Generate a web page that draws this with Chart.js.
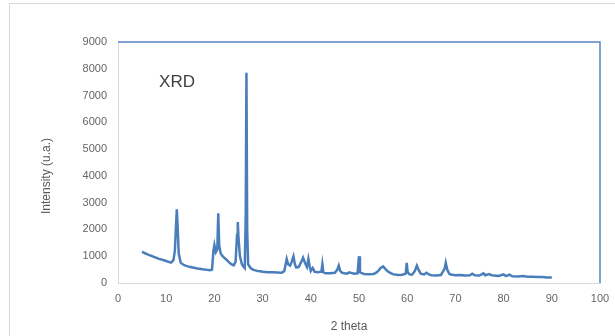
<!DOCTYPE html>
<html>
<head>
<meta charset="utf-8">
<script src="https://cdn.jsdelivr.net/npm/chart.js@4"></script>
<style>
  html, body { margin: 0; padding: 0; background: #fff; overflow: hidden; }
  #frame { position: absolute; left: 9px; top: 3px; width: 700px; height: 400px; border: 1px solid #d9d9d9; }
  #wrap { position: absolute; left: 0; top: 0; width: 615px; height: 336px; }
</style>
</head>
<body>
<div id="frame"></div>
<div id="wrap"><canvas id="xrd" width="615" height="336"></canvas></div>
<script>
// 2 theta (deg) and intensity (u.a.)
const twoTheta = [
  5.0, 5.5, 6.0, 6.5, 7.0, 7.5, 8.0, 8.5, 9.0, 9.5, 10.0, 10.5, 11.0, 11.5, 11.8, 12.0, 12.2, 12.4, 12.6,
  13.0, 13.5, 14.0, 14.5, 15.0, 15.5, 16.0, 16.5, 17.0, 17.5, 18.0, 18.5, 19.0, 19.5, 19.8, 20.0, 20.3,
  20.6, 20.8, 21.0, 21.3, 21.7, 22.0, 22.5, 23.0, 23.5, 24.0, 24.4, 24.7, 24.85, 25.0, 25.3, 25.7, 26.0,
  26.3, 26.5, 26.65, 26.8, 27.0, 27.5, 28.0, 28.5, 29.0, 29.5, 30.0, 31.0, 32.0, 33.0, 34.0, 34.5, 35.0,
  35.3, 35.7, 36.0, 36.4, 36.7, 37.0, 37.5, 38.0, 38.4, 38.8, 39.2, 39.5, 39.8, 40.0, 40.4, 40.8, 41.5,
  42.2, 42.4, 42.6, 43.0, 44.0, 45.0, 45.5, 45.8, 46.1, 46.5, 47.0, 47.5, 48.0, 48.5, 49.0, 49.7, 50.0,
  50.2, 51.0, 52.0, 53.0, 53.5, 54.0, 54.5, 55.0, 55.5, 56.0, 56.5, 57.0, 58.0, 59.0, 59.7, 59.9, 60.1,
  60.5, 61.0, 61.6, 62.0, 62.4, 62.8, 63.5, 64.0, 64.5, 65.0, 66.0, 67.0, 67.5, 67.8, 68.0, 68.3, 68.7,
  69.0, 70.0, 71.0, 72.0, 73.0, 73.5, 74.0, 75.0, 75.8, 76.2, 77.0, 77.5, 78.0, 79.0, 80.0, 80.5, 81.2,
  81.8, 83.0, 84.0, 85.0, 86.0, 87.0, 88.0, 89.0, 90.0
];
const intensity = [
  1170, 1120, 1080, 1040, 1010, 970, 940, 900, 880, 850, 820, 790, 760, 850, 1200, 2000, 2750, 2000, 1100,
  760, 690, 650, 620, 600, 580, 560, 540, 530, 510, 500, 490, 480, 500, 1200, 1420, 1150,
  1250, 2600, 1400, 1100, 1000, 950, 870, 780, 700, 660, 800, 1800, 2280, 1700, 1000, 700, 620,
  560, 2500, 7850, 2000, 700, 560, 500, 470, 450, 440, 420, 400, 400, 390, 380, 450, 900,
  700, 650, 780, 1000, 700, 580, 600, 780, 950, 750, 600, 900, 600, 450, 560, 420, 400,
  420, 700, 400, 360, 360, 380, 500, 650, 450, 380, 360, 350, 400, 370, 350, 360, 1000,
  400, 340, 330, 340, 380, 450, 560, 620, 520, 430, 380, 330, 300, 310, 350, 750, 400,
  320, 310, 450, 650, 480, 350, 320, 380, 320, 290, 280, 300, 450, 550, 750, 500, 350,
  320, 290, 300, 280, 290, 350, 290, 280, 360, 290, 330, 290, 280, 260, 320, 260, 310,
  250, 240, 260, 230, 230, 220, 220, 210, 210
];
const xTicks = [0, 10, 20, 30, 40, 50, 60, 70, 80, 90, 100];
const yTicks = [0, 1000, 2000, 3000, 4000, 5000, 6000, 7000, 8000, 9000];

const points = twoTheta.map((t, i) => ({ x: t, y: intensity[i] }));

// plot frame (blue top/right) plus the free-standing texts
const decor = {
  id: 'decor',
  afterDraw(chart) {
    const { ctx, chartArea: a } = chart;
    ctx.save();
    ctx.strokeStyle = '#5585c5';
    ctx.lineWidth = 1.5;
    ctx.beginPath();
    ctx.moveTo(a.left, a.top);
    ctx.lineTo(a.right, a.top);
    ctx.lineTo(a.right, a.bottom);
    ctx.stroke();

    ctx.fillStyle = '#404040';
    ctx.font = '17px "Liberation Sans", Arial, sans-serif';
    ctx.textAlign = 'center';
    ctx.textBaseline = 'middle';
    ctx.fillText('XRD', 177, 82);

    ctx.fillStyle = '#595959';
    ctx.font = '12px "Liberation Sans", Arial, sans-serif';
    ctx.fillText('2 theta', 349, 327);

    ctx.translate(47, 176);
    ctx.rotate(-Math.PI / 2);
    ctx.fillText('Intensity (u.a.)', 0, 0);
    ctx.restore();
  }
};

const tickFont = { family: '"Liberation Sans", Arial, sans-serif', size: 11 };

new Chart(document.getElementById('xrd'), {
  type: 'scatter',
  data: {
    datasets: [{
      data: points,
      showLine: true,
      borderColor: '#4a7ebb',
      borderWidth: 2.5,
      pointRadius: 0,
      tension: 0
    }]
  },
  options: {
    responsive: false,
    animation: false,
    events: [],
    layout: { padding: { left: 0, right: 15, top: 42, bottom: 0 } },
    plugins: { legend: { display: false }, tooltip: { enabled: false } },
    scales: {
      x: {
        type: 'linear',
        min: 0,
        max: 100,
        afterBuildTicks: s => { s.ticks = xTicks.map(v => ({ value: v })); },
        afterFit: s => { s.height = 53; s.paddingLeft = 0; s.paddingRight = 0; },
        grid: { color: 'rgba(0,0,0,0)', drawTicks: false },
        border: { display: true, color: '#d9d9d9', width: 1 },
        ticks: { padding: 9, color: '#666', font: tickFont, callback: v => String(v) }
      },
      y: {
        min: 0,
        max: 9000,
        afterBuildTicks: s => { s.ticks = yTicks.map(v => ({ value: v })); },
        afterFit: s => { s.width = 118; s.paddingTop = 0; s.paddingBottom = 0; },
        grid: { color: 'rgba(0,0,0,0)', drawTicks: false },
        border: { display: true, color: '#d9d9d9', width: 1 },
        ticks: { padding: 11, color: '#666', font: tickFont, callback: v => String(v) }
      }
    }
  },
  plugins: [decor]
});
</script>
</body>
</html>
